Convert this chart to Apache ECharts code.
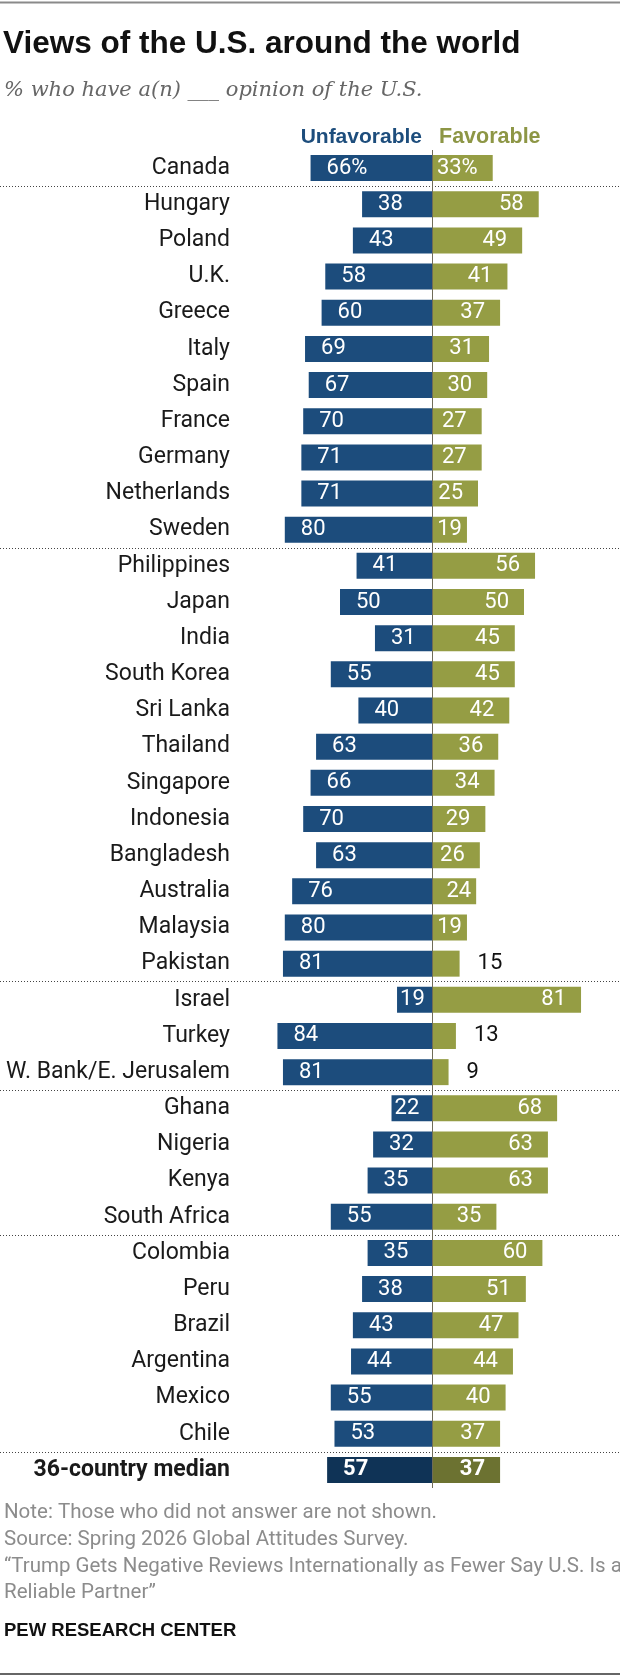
<!DOCTYPE html>
<html>
<head>
<meta charset="utf-8">
<script src="https://cdn.jsdelivr.net/npm/echarts@6/dist/echarts.min.js"></script>
<style>
  html, body { margin: 0; padding: 0; background: #fff; }
  #chart { width: 620px; height: 1680px; }
</style>
</head>
<body>
<div id="chart"></div>
<script>
// data
const countries = [
  'Canada',
  'Hungary', 'Poland', 'U.K.', 'Greece', 'Italy', 'Spain', 'France', 'Germany', 'Netherlands', 'Sweden',
  'Philippines', 'Japan', 'India', 'South Korea', 'Sri Lanka', 'Thailand', 'Singapore', 'Indonesia',
  'Bangladesh', 'Australia', 'Malaysia', 'Pakistan',
  'Israel', 'Turkey', 'W. Bank/E. Jerusalem',
  'Ghana', 'Nigeria', 'Kenya', 'South Africa',
  'Colombia', 'Peru', 'Brazil', 'Argentina', 'Mexico', 'Chile',
  '36-country median'
];
const unfavorable = [
  66,
  38, 43, 58, 60, 69, 67, 70, 71, 71, 80,
  41, 50, 31, 55, 40, 63, 66, 70, 63, 76, 80, 81,
  19, 84, 81,
  22, 32, 35, 55,
  35, 38, 43, 44, 55, 53,
  57
];
const favorable = [
  33,
  58, 49, 41, 37, 31, 30, 27, 27, 25, 19,
  56, 50, 45, 45, 42, 36, 34, 29, 26, 24, 19, 15,
  81, 13, 9,
  68, 63, 63, 35,
  60, 51, 47, 44, 40, 37,
  37
];
// first row of each block that has a dotted rule above it
const blockStarts = [1, 11, 23, 26, 30, 36];

const MEDIAN = countries.length - 1;
const BLUE = '#1c4c7c', OLIVE = '#959d44';
const BLUE_DARK = '#0f3356', OLIVE_DARK = '#6c7231';
const FONT = 'Roboto';

const chart = echarts.init(document.getElementById('chart'));

const unfavData = unfavorable.map((v, i) => {
  const d = { value: -v };
  if (i === MEDIAN) {
    d.itemStyle = { color: BLUE_DARK };
    d.label = { fontWeight: 'bold' };
  } else if (v < 25) {
    d.label = { distance: 3 };
  }
  return d;
});
const favData = favorable.map((v, i) => {
  const d = { value: v };
  if (i === MEDIAN) {
    d.itemStyle = { color: OLIVE_DARK };
    d.label = { fontWeight: 'bold' };
  } else if (v < 17) {
    d.label = { position: 'right', distance: 18, color: '#111' };
  } else if (v < 25) {
    d.label = { distance: 5 };
  }
  return d;
});

const labelText = p => Math.abs(p.value) + (p.dataIndex === 0 ? '%' : '');

const option = {
  animation: false,
  grid: [
    // bars
    { left: 248, right: 4, top: 150, height: 1338, outerBoundsMode: 'none' },
    // full-width dotted rules between regions
    { left: 0, right: 0, top: 150, height: 1338, outerBoundsMode: 'none' }
  ],
  xAxis: [
    { gridIndex: 0, type: 'value', min: -100, max: 100, show: false },
    { gridIndex: 1, type: 'value', min: 0, max: 1, show: false }
  ],
  yAxis: [
    {
      gridIndex: 0,
      type: 'category',
      inverse: true,
      data: countries.map((c, i) => i === MEDIAN
        ? { value: c, textStyle: { fontWeight: 'bold' } }
        : c),
      axisLine: { show: false, onZero: false },
      axisTick: { show: false },
      splitLine: { show: false },
      axisLabel: { margin: 18, fontFamily: FONT, fontSize: 23, color: '#1a1a1a' }
    },
    {
      gridIndex: 1,
      type: 'category',
      inverse: true,
      data: countries,
      axisLine: { show: false, onZero: false },
      axisTick: { show: false },
      axisLabel: { show: false },
      splitLine: {
        show: true,
        showMaxLine: false,
        interval: (idx) => blockStarts.indexOf(idx) >= 0,
        lineStyle: { color: '#444', width: 1, type: [1, 2] }
      }
    }
  ],
  series: [
    {
      name: 'Unfavorable', type: 'bar', data: unfavData, barWidth: 26, barGap: '-100%',
      itemStyle: { color: BLUE },
      label: { show: true, position: 'insideLeft', distance: 16, color: '#fff',
        fontFamily: FONT, fontSize: 22, formatter: labelText }
    },
    {
      name: 'Favorable', type: 'bar', data: favData, barWidth: 26, barGap: '-100%',
      itemStyle: { color: OLIVE },
      label: { show: true, position: 'insideRight', distance: 15, color: '#fff',
        fontFamily: FONT, fontSize: 22, formatter: labelText },
      markLine: {
        silent: true, symbol: 'none', z: 10,
        label: { show: false },
        lineStyle: { color: '#6f6c58', width: 1, type: 'solid' },
        data: [{ xAxis: 0 }]
      }
    }
  ],
  graphic: [
    { type: 'line', shape: { x1: 0, y1: 2.5, x2: 620, y2: 2.5 }, style: { stroke: '#8a8a8a', lineWidth: 2 } },
    { type: 'text', x: 3, y: 44, style: { text: 'Views of the U.S. around the world',
      font: 'bold 31.5px "Liberation Sans"', fill: '#111', textVerticalAlign: 'middle' } },
    { type: 'text', x: 4, y: 91, style: { text: '% who have a(n) ___ opinion of the U.S.',
      font: 'italic 21px "DejaVu Serif"', fill: '#666', textVerticalAlign: 'middle' } },
    { type: 'text', x: 422, y: 137, style: { text: 'Unfavorable', font: 'bold 21px "Liberation Sans"',
      fill: '#1d4d7c', textAlign: 'right', textVerticalAlign: 'middle' } },
    { type: 'text', x: 439, y: 137, style: { text: 'Favorable', font: 'bold 21.5px "Liberation Sans"',
      fill: '#8d9645', textAlign: 'left', textVerticalAlign: 'middle' } },
    { type: 'text', x: 4, y: 1513, style: { text: 'Note: Those who did not answer are not shown.',
      font: '20.5px Roboto', fill: '#8c8c8c', textVerticalAlign: 'middle' } },
    { type: 'text', x: 4, y: 1540, style: { text: 'Source: Spring 2026 Global Attitudes Survey.',
      font: '20.5px Roboto', fill: '#8c8c8c', textVerticalAlign: 'middle' } },
    { type: 'text', x: 4, y: 1567, style: { text: '\u201cTrump Gets Negative Reviews Internationally as Fewer Say U.S. Is a',
      font: '20.5px Roboto', fill: '#8c8c8c', textVerticalAlign: 'middle' } },
    { type: 'text', x: 4, y: 1593, style: { text: 'Reliable Partner\u201d',
      font: '20.5px Roboto', fill: '#8c8c8c', textVerticalAlign: 'middle' } },
    { type: 'text', x: 4, y: 1631, style: { text: 'PEW RESEARCH CENTER',
      font: 'bold 18.5px "Liberation Sans"', fill: '#111', textVerticalAlign: 'middle' } },
    { type: 'line', shape: { x1: 0, y1: 1674, x2: 620, y2: 1674 }, style: { stroke: '#333', lineWidth: 1.5 } }
  ]
};

chart.setOption(option);
</script>
</body>
</html>
